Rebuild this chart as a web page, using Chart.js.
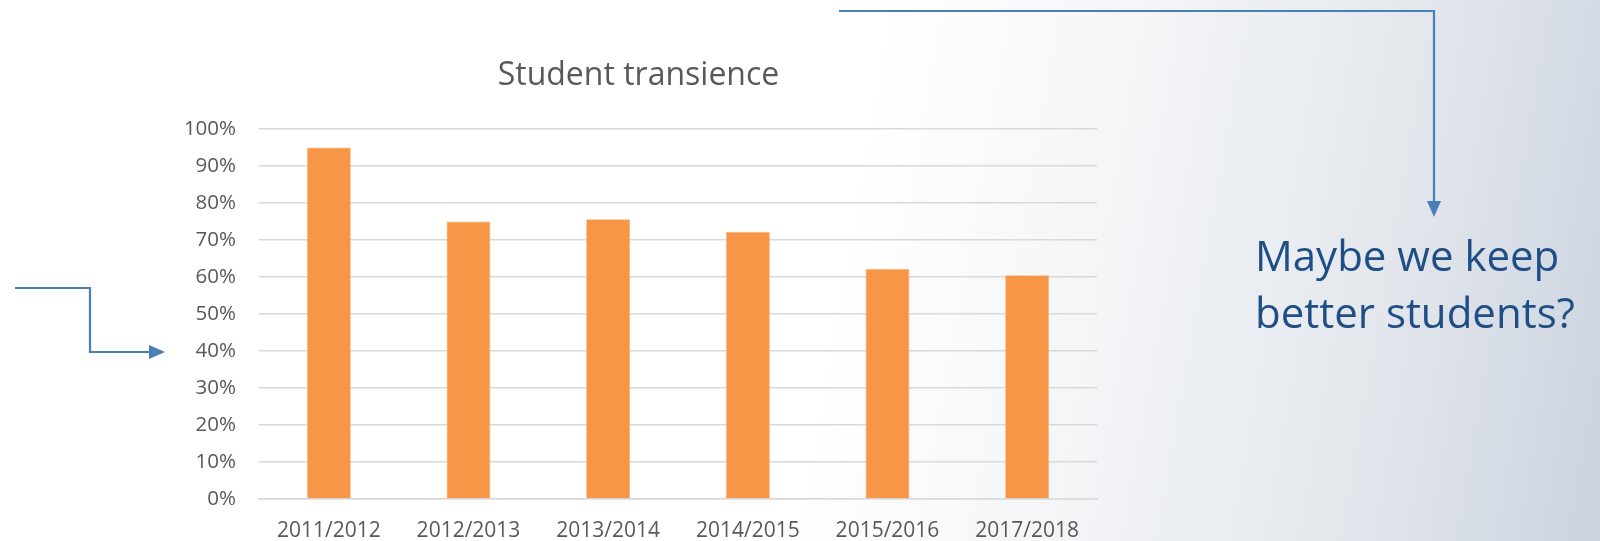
<!DOCTYPE html>
<html>
<head>
<meta charset="utf-8">
<script src="https://cdn.jsdelivr.net/npm/chart.js@4"></script>
<style>
  html, body { margin: 0; padding: 0; }
  body {
    width: 1600px; height: 541px; overflow: hidden; position: relative;
    background: linear-gradient(100deg, #ffffff 0%, #ffffff 52%, #f3f5f7 68%, #e4e8ed 84%, #ccd3df 100%);
    font-family: "Open Sans", sans-serif;
  }
  #wrap { position: absolute; left: 0; top: 0; width: 1600px; height: 541px; }
  svg { position: absolute; left: 0; top: 0; }
  .note {
    position: absolute; left: 1255px; top: 227px;
    font-size: 42px; line-height: 56.6px; color: #1f4e86;
  }
</style>
</head>
<body>
<div id="wrap"><canvas id="c" width="1600" height="541"></canvas></div>

<svg width="1600" height="541">
  <g fill="none" stroke="#4a7ebb" stroke-width="2.2">
    <polyline points="839,11 1434,11 1434,203" />
    <polyline points="15,288 90,288 90,352 151,352" />
  </g>
  <g fill="#4a7ebb">
    <polygon points="1427,201 1441,201 1434,217" />
    <polygon points="149,345 149,359 165,352" />
  </g>
</svg>

<div class="note">Maybe we keep<br>better students?</div>

<script>
const years = ['2011/2012', '2012/2013', '2013/2014', '2014/2015', '2015/2016', '2017/2018'];
const transience = [95, 75, 75.6, 72.2, 62.2, 60.5];
const yMin = 0, yMax = 100, yStep = 10;

new Chart(document.getElementById('c'), {
  type: 'bar',
  data: {
    labels: years,
    datasets: [{
      data: transience,
      backgroundColor: '#f79646',
      borderColor: '#f9b27a',
      borderWidth: 0.8,
      barPercentage: 0.315,
      categoryPercentage: 1,
    }],
  },
  options: {
    responsive: false,
    animation: false,
    layout: { padding: { left: 180, right: 503, top: 57, bottom: 0 } },
    plugins: {
      legend: { display: false },
      tooltip: { enabled: false },
      title: {
        display: true,
        text: 'Student transience',
        color: '#595959',
        font: { family: 'Open Sans', size: 32, weight: 'normal', lineHeight: 1.2 },
        padding: { top: 0, bottom: 33.6 },
      },
    },
    scales: {
      x: {
        grid: { display: false, drawTicks: false },
        border: { display: true, color: '#d9d9d9', width: 1.5 },
        ticks: { color: '#595959', padding: 19, font: { family: 'Open Sans', size: 21 } },
        afterFit: (s) => { s.height = 42; },
      },
      y: {
        min: yMin, max: yMax,
        grid: { color: '#d9d9d9', lineWidth: 1.5, drawTicks: false },
        border: { display: false },
        ticks: {
          stepSize: yStep, color: '#595959', padding: 23,
          font: { family: 'Open Sans', size: 20.5 },
          callback: (v) => v + '%',
        },
        afterFit: (s) => { s.width = 79; },
      },
    },
  },
});
</script>
</body>
</html>
